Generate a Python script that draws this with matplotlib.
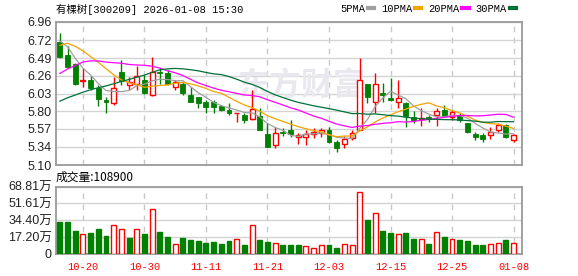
import matplotlib
matplotlib.use('Agg')
import matplotlib.pyplot as plt
from matplotlib.patches import Rectangle
from matplotlib.lines import Line2D
import numpy as np
import pandas as pd

plt.rcParams['font.family'] = ['Liberation Sans', 'Noto Sans CJK SC']

title = '有棵树[300209] 2026-01-08 15:30'

dates = ['10-15', '10-16', '10-17', '10-20', '10-21', '10-22', '10-23', '10-24', '10-27', '10-28',
         '10-29', '10-30', '10-31', '11-03', '11-04', '11-05', '11-06', '11-07', '11-10', '11-11',
         '11-12', '11-13', '11-14', '11-17', '11-18', '11-19', '11-20', '11-21', '11-24', '11-25',
         '11-26', '11-27', '11-28', '12-01', '12-02', '12-03', '12-04', '12-05', '12-08', '12-09',
         '12-10', '12-11', '12-12', '12-15', '12-16', '12-17', '12-18', '12-19', '12-22', '12-23',
         '12-24', '12-25', '12-26', '12-29', '12-30', '12-31', '01-05', '01-06', '01-07', '01-08']

opens = [6.70, 6.53, 6.41, 6.19, 6.21, 6.10, 5.95, 5.91, 6.31, 6.14,
         6.15, 6.21, 6.01, 6.31, 6.30, 6.11, 6.16, 6.01, 5.98, 5.92,
         5.92, 5.87, 5.82, 5.77, 5.75, 5.70, 5.74, 5.50, 5.36, 5.53,
         5.56, 5.47, 5.46, 5.50, 5.51, 5.56, 5.40, 5.37, 5.45, 5.56,
         6.15, 5.92, 6.03, 5.97, 5.92, 5.90, 5.72, 5.70, 5.72, 5.75,
         5.82, 5.73, 5.75, 5.64, 5.50, 5.49, 5.49, 5.56, 5.62, 5.43]
highs = [6.82, 6.65, 6.43, 6.36, 6.26, 6.14, 5.98, 6.24, 6.46, 6.24,
         6.39, 6.27, 6.50, 6.36, 6.33, 6.21, 6.18, 6.11, 5.99, 5.95,
         5.95, 5.88, 5.90, 5.78, 5.77, 6.07, 5.84, 5.64, 5.59, 5.58,
         5.685, 5.52, 5.55, 5.58, 5.58, 5.59, 5.43, 5.48, 5.56, 6.49,
         6.16, 6.30, 6.17, 6.23, 6.21, 5.92, 5.80, 5.84, 5.75, 5.84,
         5.88, 5.82, 5.77, 5.65, 5.53, 5.52, 5.60, 5.65, 5.63, 5.50]
lows = [6.49, 6.36, 6.14, 6.11, 6.08, 5.87, 5.78, 5.88, 6.14, 6.08,
        6.08, 6.02, 6.00, 6.15, 6.14, 6.08, 6.01, 5.92, 5.84, 5.78,
        5.77, 5.80, 5.75, 5.66, 5.64, 5.68, 5.55, 5.33, 5.32, 5.48,
        5.47, 5.37, 5.36, 5.45, 5.46, 5.39, 5.27, 5.32, 5.43, 5.55,
        5.91, 5.78, 5.92, 5.93, 5.84, 5.60, 5.65, 5.61, 5.66, 5.61,
        5.73, 5.69, 5.66, 5.52, 5.43, 5.40, 5.44, 5.53, 5.45, 5.40]
closes = [6.51, 6.38, 6.15, 6.21, 6.10, 5.96, 5.92, 6.10, 6.19, 6.18,
          6.26, 6.03, 6.31, 6.30, 6.16, 6.18, 6.03, 5.92, 5.91, 5.86,
          5.85, 5.82, 5.77, 5.78, 5.69, 5.83, 5.56, 5.34, 5.52, 5.51,
          5.50, 5.49, 5.50, 5.53, 5.56, 5.40, 5.32, 5.44, 5.51, 6.21,
          5.98, 6.15, 6.01, 5.94, 5.97, 5.74, 5.68, 5.71, 5.70, 5.80,
          5.74, 5.79, 5.69, 5.53, 5.46, 5.44, 5.53, 5.62, 5.46, 5.49]

# closes before the first shown day (not drawn), guessed so the MA lines start where they do
prior_closes = [5.05, 5.08, 5.10, 5.14, 5.18, 5.22, 5.25, 5.30, 5.38, 5.40,
                5.20, 5.24, 5.30, 5.80, 6.00, 6.20, 6.27, 6.33, 6.50, 6.40,
                6.10, 6.55, 6.80, 6.85, 6.70, 6.75, 6.90, 6.85, 6.55]

# volume in 万 (10k shares)
volumes = [32.9, 32.9, 23.8, 20.1, 21.5, 25.5, 18.5, 29.2, 25.2, 16.4,
           25.2, 20.1, 46.3, 22.8, 17.1, 10.1, 16.4, 14.7, 13.4, 11.4,
           12.4, 10.4, 13.4, 15.1, 9.4, 29.2, 14.4, 12.4, 11.1, 9.4,
           9.4, 9.4, 7.8, 6.1, 9.1, 9.4, 6.4, 10.1, 9.1, 63.1,
           34.6, 42.3, 23.5, 21.5, 20.1, 21.5, 15.1, 15.1, 10.4, 22.2,
           17.4, 15.1, 14.4, 13.4, 9.4, 9.4, 10.1, 11.1, 14.4, 10.89]

price_ticks = [5.10, 5.34, 5.57, 5.80, 6.03, 6.26, 6.49, 6.72, 6.96]
price_labels = ['5.10', '5.34', '5.57', '5.80', '6.03', '6.26', '6.49', '6.72', '6.96']
vol_ticks = [0, 17.20, 34.40, 51.61, 68.81]
vol_labels = ['0', '17.20万', '34.40万', '51.61万', '68.81万']
tick_dates = ['10-20', '10-30', '11-11', '11-21', '12-03', '12-15', '12-25', '01-08']

ma_windows = [5, 10, 20, 30]
ma_names = ['5PMA', '10PMA', '20PMA', '30PMA']
ma_colors = ['#a0a0a0', '#f5a300', '#ff00ff', '#007038']

RED = '#ff0000'
GREEN = '#008000'
FRAME = '#9a9a9a'
GRID = '#d4d4d4'
MONO = ['Liberation Mono', 'Noto Sans CJK SC']

W, H = 578, 276
fig = plt.figure(figsize=(W / 100, H / 100), dpi=100)
ax = fig.add_axes([56 / W, 1 - 165 / H, 466 / W, 143 / H])
axv = fig.add_axes([56 / W, 1 - 254 / H, 466 / W, 67.5 / H])

n = len(closes)
x = np.arange(n)
bw = 0.64

# candles
for i in range(n):
    o, h, l, c = opens[i], highs[i], lows[i], closes[i]
    if c >= o:
        ax.vlines(i, c, h, color=RED, lw=1, zorder=3)
        ax.vlines(i, l, o, color=RED, lw=1, zorder=3)
        ax.add_patch(Rectangle((i - bw / 2, o), bw, max(c - o, 0.004),
                               facecolor='white', edgecolor=RED, lw=1, zorder=3))
    else:
        ax.vlines(i, l, h, color=GREEN, lw=1, zorder=3)
        ax.add_patch(Rectangle((i - bw / 2, c), bw, o - c,
                               facecolor=GREEN, edgecolor=GREEN, lw=0.6, zorder=3))

# moving averages
all_close = pd.Series(prior_closes + closes)
skip = len(prior_closes)
for win, col in zip(ma_windows, ma_colors):
    ma = all_close.rolling(win).mean().iloc[skip:].to_numpy()
    ax.plot(x, ma, color=col, lw=0.9, zorder=4)

# volume, coloured by close vs previous close
prev = all_close.shift(1).iloc[skip:].to_numpy()
up = np.array(closes) >= prev
faces = ['white' if u else GREEN for u in up]
edges = [RED if u else GREEN for u in up]
axv.bar(x, volumes, width=bw, color=faces, edgecolor=edges, linewidth=1, zorder=3)

tick_pos = [dates.index(d) for d in tick_dates]

for a in (ax, axv):
    a.set_xlim(-0.5, 60.1)
    a.set_xticks(tick_pos)
    a.xaxis.grid(True, color='#c8c8c8', linestyle=(0, (4, 4)), lw=1)
    a.yaxis.grid(True, color=GRID, lw=1)
    a.set_axisbelow(True)
    for s in a.spines.values():
        s.set_color(FRAME)
        s.set_linewidth(1.3)
    a.tick_params(length=0)

ax.set_ylim(5.10, 6.96)
ax.set_yticks(price_ticks)
ax.set_yticklabels(price_labels, fontsize=9, color='#222222')
ax.tick_params(axis='y', pad=3)
ax.set_xticklabels([])

axv.set_ylim(0, 68.81)
axv.set_yticks(vol_ticks)
axv.set_yticklabels(vol_labels, fontsize=9, color='#222222')
axv.tick_params(axis='y', pad=3)
axv.set_xticklabels(tick_dates, color=RED, fontsize=7.5, family=MONO)
axv.tick_params(axis='x', pad=6)

# faint watermark
ax.text(301 / W, 1 - 87 / H, '东方财富', transform=fig.transFigure, color='#e8e8ee',
        fontsize=23, fontweight='bold', ha='center', va='center', zorder=1,
        family='Noto Sans CJK SC')

fig.text(56 / W, 1 - 9 / H, title, ha='left', va='center', fontsize=7.5, family=MONO)

handles = [Line2D([], [], color=c, lw=3) for c in ma_colors]
fig.legend(handles, ma_names, loc='center right', bbox_to_anchor=(516 / W, 1 - 9 / H),
           ncol=4, markerfirst=False, frameon=False, handlelength=0.6, handletextpad=0.25,
           columnspacing=0.7, borderpad=0, borderaxespad=0,
           prop={'family': MONO, 'size': 7.5})

fig.text(56 / W, 1 - 177 / H, '成交量:%d' % round(volumes[-1] * 10000), ha='left', va='center',
         fontsize=8.5, family='Noto Sans CJK SC')

fig.savefig('out.png', dpi=100)
